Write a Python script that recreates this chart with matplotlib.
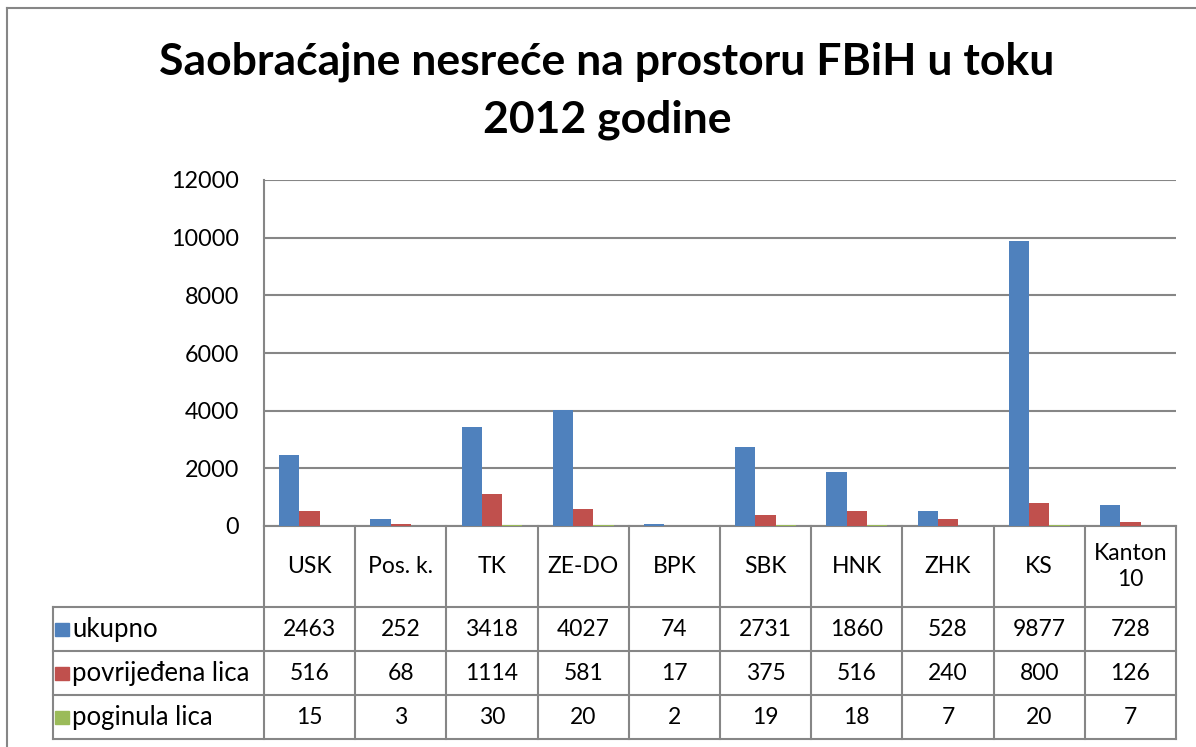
import matplotlib
matplotlib.use('Agg')
import matplotlib.pyplot as plt
from matplotlib.lines import Line2D
from matplotlib.patches import Rectangle
import numpy as np

plt.rcParams['font.family'] = ['Lato', 'DejaVu Sans']

kantoni = ['USK', 'Pos. k.', 'TK', 'ZE-DO', 'BPK', 'SBK', 'HNK', 'ZHK', 'KS', 'Kanton\n10']
ukupno = [2463, 252, 3418, 4027, 74, 2731, 1860, 528, 9877, 728]
povrijedjena = [516, 68, 1114, 581, 17, 375, 516, 240, 800, 126]
poginula = [15, 3, 30, 20, 2, 19, 18, 7, 20, 7]
serije = ['ukupno', 'povrijeđena lica', 'poginula lica']
boje = ['#4F81BD', '#C0504D', '#9BBB59']
yticks = [0, 2000, 4000, 6000, 8000, 10000, 12000]

W, H = 1196, 747
grid_c = '#868686'
fig = plt.figure(figsize=(W / 100, H / 100), dpi=100)

# outer chart border
fig.add_artist(Line2D([7 / W, 7 / W], [0, 1 - 8 / H], transform=fig.transFigure, color=grid_c, lw=1.5))
fig.add_artist(Line2D([7 / W, 1], [1 - 8 / H, 1 - 8 / H], transform=fig.transFigure, color=grid_c, lw=1.5))

fig.text(607 / W, 1 - 62 / H, 'Saobraćajne nesreće na prostoru FBiH u toku',
         ha='center', va='center', fontsize=32, fontweight='bold')
fig.text(607 / W, 1 - 120 / H, '2012 godine',
         ha='center', va='center', fontsize=32, fontweight='bold')

left, right, top, bot = 264, 1176, 180, 526
ax = fig.add_axes([left / W, 1 - bot / H, (right - left) / W, (bot - top) / H])
x = np.arange(len(kantoni))
w = 1 / 4.5
for i, vals in enumerate([ukupno, povrijedjena, poginula]):
    ax.bar(x + (i - 1) * w, vals, w, color=boje[i], zorder=3)
ax.set_xlim(-0.5, len(kantoni) - 0.5)
ax.set_ylim(0, 12000)
ax.set_yticks(yticks)
ax.set_yticklabels([str(t) for t in yticks], fontsize=16.8)
ax.tick_params(axis='y', length=0, pad=18)
ax.set_xticks([])
ax.yaxis.grid(True, color=grid_c, lw=1.5, zorder=0)
for s in ['top', 'right']:
    ax.spines[s].set_visible(False)
for s in ['left', 'bottom']:
    ax.spines[s].set_color(grid_c)
    ax.spines[s].set_linewidth(1.5)

# data table below the chart
tb = 739
tax = fig.add_axes([left / W, 1 - tb / H, (right - left) / W, (tb - bot) / H])
tax.set_xlim(-0.5, len(kantoni) - 0.5)
tax.set_ylim(tb - bot, 0)
tax.axis('off')
rows = [0, 607 - bot, 651 - bot, 695 - bot, tb - bot]
leg_x = -0.5 + (53 - left) / ((right - left) / len(kantoni))
lk = dict(color=grid_c, lw=1.5, clip_on=False)
for k in range(len(kantoni) + 1):
    tax.plot([k - 0.5, k - 0.5], [rows[0], rows[-1]], **lk)
tax.plot([leg_x, leg_x], [rows[1], rows[-1]], **lk)
for r in rows[1:]:
    tax.plot([leg_x, len(kantoni) - 0.5], [r, r], **lk)

fs = 16.5
for k, name in enumerate(kantoni):
    tax.text(k, (rows[0] + rows[1]) / 2, name, ha='center', va='center', fontsize=fs, linespacing=1.25)

for i, (vals, name) in enumerate(zip([ukupno, povrijedjena, poginula], serije)):
    yc = (rows[i + 1] + rows[i + 2]) / 2
    for k, v in enumerate(vals):
        tax.text(k, yc, str(v), ha='center', va='center', fontsize=fs)
    tax.add_patch(Rectangle((leg_x + 0.025, yc - 6.5), 0.145, 13, color=boje[i], clip_on=False))
    tax.text(leg_x + 0.21, yc, name, ha='left', va='center', fontsize=18.5)

fig.savefig('out.png', dpi=100)
